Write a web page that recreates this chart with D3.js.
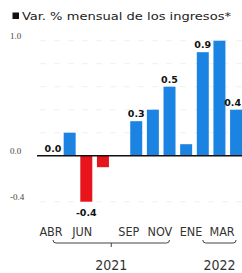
<!DOCTYPE html>
<html>
<head>
<meta charset="utf-8">
<script src="https://cdn.jsdelivr.net/npm/d3@7"></script>
<style>
  body { margin: 0; background: #fff; }
  svg { display: block; }
</style>
</head>
<body>
<svg class="chart"></svg>
<script>
// monthly data, abr 2021 - mar 2022
var months = ["ABR","MAY","JUN","JUL","AGO","SEP","OCT","NOV","DIC","ENE","FEB","MAR"];
var values = [0.0, 0.2, -0.4, -0.1, 0.0, 0.3, 0.4, 0.6, 0.1, 0.9, 1.0, 0.4];
var valueLabels = ["0.0", "", "-0.4", "", "", "0.3", "", "0.5", "", "0.9", "", "0.4"];
var tickMonths = ["ABR","JUN","SEP","NOV","ENE","MAR"];
var yTicks = [-0.4, 0.0, 1.0];
var gridTicks = [-0.4, 0.2, 0.4, 0.6, 0.8, 1.0];
var years = [
  {label: "2021", from: "ABR", to: "NOV"},
  {label: "2022", from: "ENE", to: "MAR"}
];
var title = "Var. % mensual de los ingresos*";

var width = 242, height = 273;

var svg = d3.select("svg.chart")
  .attr("width", width)
  .attr("height", height);

var x = d3.scaleBand()
  .domain(months)
  .range([44.7, 244.4])
  .paddingInner(0.28)
  .paddingOuter(0.14);

var y = d3.scaleLinear()
  .domain([-0.4, 1.0])
  .range([201.7, 40.7]);

var cx = d => x(d) + x.bandwidth() / 2;

// tick labels are a bit squeezed to the left in the original
var labelX = d3.scaleLinear()
  .domain([cx("ABR"), cx("MAR")])
  .range([cx("ABR") - 2, cx("MAR") - 14]);

// title
svg.append("rect")
  .attr("x", 12.5).attr("y", 12.5)
  .attr("width", 6.5).attr("height", 6.5)
  .attr("fill", "#111");
svg.append("text")
  .attr("x", 22).attr("y", 19.5)
  .attr("textLength", 209)
  .attr("lengthAdjust", "spacingAndGlyphs")
  .style("font-family", "'DejaVu Sans Condensed', sans-serif")
  .style("font-size", "11px")
  .style("fill", "#222")
  .text(title);

// faint grid
svg.append("g")
  .selectAll("line")
  .data(gridTicks)
  .join("line")
    .attr("x1", 40).attr("x2", width)
    .attr("y1", d => y(d)).attr("y2", d => y(d))
    .attr("stroke", "#f0f0f0")
    .attr("stroke-width", 1)
    .attr("stroke-dasharray", "6,8");

// y labels
svg.append("g")
  .selectAll("text")
  .data(yTicks)
  .join("text")
    .attr("x", 10)
    .attr("y", d => y(d) - 2)
    .style("font-family", "'Liberation Serif', 'DejaVu Serif', serif")
    .style("font-size", "9px")
    .style("fill", "#444")
    .text(d => d3.format(".1f")(d).replace("−", "-"));

// bars
svg.append("g")
  .selectAll("rect")
  .data(months)
  .join("rect")
    .attr("x", d => x(d))
    .attr("width", x.bandwidth())
    .attr("y", (d, i) => y(Math.max(0, values[i])))
    .attr("height", (d, i) => Math.abs(y(values[i]) - y(0)))
    .attr("fill", (d, i) => values[i] < 0 ? "#e8141b" : "#1b84e3");

// zero line
svg.append("line")
  .attr("x1", 37).attr("x2", width)
  .attr("y1", y(0)).attr("y2", y(0))
  .attr("stroke", "#111")
  .attr("stroke-width", 1.6);

// value labels
svg.append("g")
  .selectAll("text")
  .data(months)
  .join("text")
    .attr("x", d => cx(d))
    .attr("y", (d, i) => values[i] < 0 ? y(values[i]) + 14 : y(values[i]) - 4)
    .attr("text-anchor", "middle")
    .style("font-family", "'DejaVu Sans', sans-serif")
    .style("font-weight", "bold")
    .style("font-size", "9.5px")
    .style("fill", "#111")
    .text((d, i) => valueLabels[i])
    .each(function() {
      // keep the last label inside the frame
      var w = this.getComputedTextLength();
      var xx = +d3.select(this).attr("x");
      if (xx + w / 2 > width - 1) d3.select(this).attr("x", width - 1 - w / 2);
    });

// month labels
svg.append("g")
  .selectAll("text")
  .data(tickMonths)
  .join("text")
    .attr("x", d => labelX(cx(d)))
    .attr("y", 236)
    .attr("text-anchor", "middle")
    .style("font-family", "'DejaVu Sans Condensed', sans-serif")
    .style("font-size", "12.5px")
    .style("fill", "#333")
    .text(d => d);

// year brackets
var yb = 243;
var brackets = svg.append("g")
  .selectAll("g")
  .data(years)
  .join("g");

brackets.append("path")
  .attr("d", d => {
    var x0 = cx(d.from), x1 = cx(d.to);
    return `M${x0},${yb - 3}Q${x0},${yb} ${x0 + 3},${yb}L${x1 - 3},${yb}Q${x1},${yb} ${x1},${yb - 3}`;
  })
  .attr("fill", "none")
  .attr("stroke", "#444")
  .attr("stroke-width", 1);

brackets.filter(d => d.label === "2021").append("line")
  .attr("x1", d => (cx(d.from) + cx(d.to)) / 2)
  .attr("x2", d => (cx(d.from) + cx(d.to)) / 2)
  .attr("y1", yb).attr("y2", yb + 4)
  .attr("stroke", "#444")
  .attr("stroke-width", 1);

brackets.append("text")
  .attr("x", d => (cx(d.from) + cx(d.to)) / 2)
  .attr("y", 270)
  .attr("text-anchor", "middle")
  .style("font-family", "'DejaVu Sans Condensed', sans-serif")
  .style("font-size", "14px")
  .style("fill", "#333")
  .text(d => d.label);
</script>
</body>
</html>
